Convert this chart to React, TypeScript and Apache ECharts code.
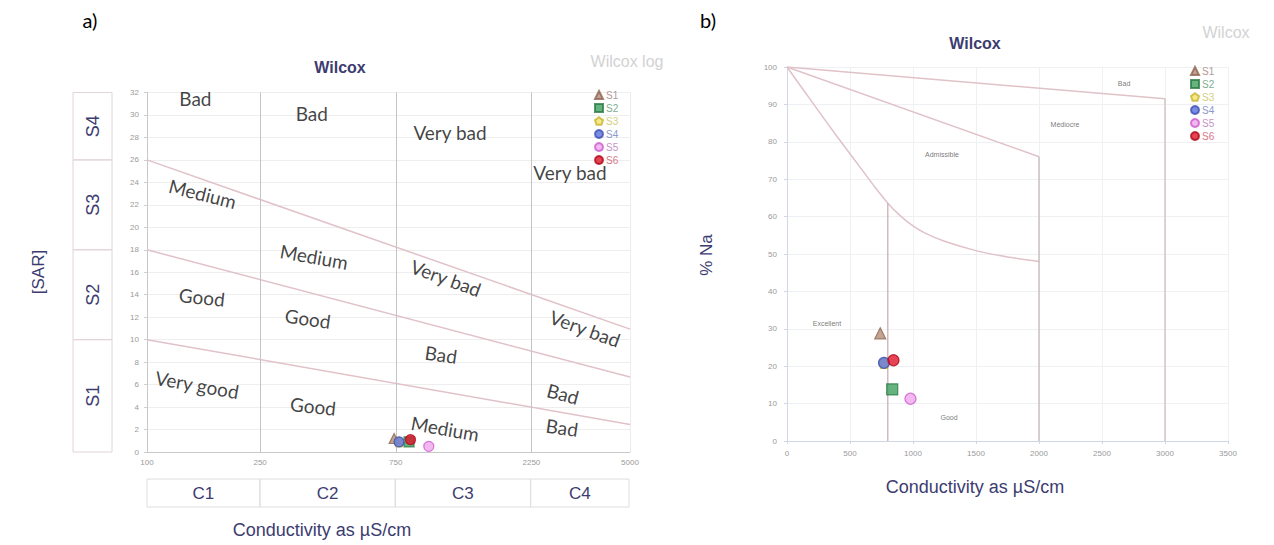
import { useEffect, useRef } from 'react';
import * as echarts from 'echarts';

// ---------- data ----------
const SAMPLES = ['S1', 'S2', 'S3', 'S4', 'S5', 'S6'];
const EC = [740, 835, 770, 770, 980, 845]; // conductivity µS/cm
const NA = [28.8, 13.8, 20.9, 20.9, 11.3, 21.6]; // % Na
const SAR = [1.2, 0.9, 0.9, 0.9, 0.5, 1.1];

// panel a (Wilcox log / USSL)
const EC_TICKS = [100, 250, 750, 2250, 5000];
const C_CLASSES = ['C1', 'C2', 'C3', 'C4'];
const SAR_BOUNDS = [0, 10, 18, 26, 32];
const S_CLASSES = ['S1', 'S2', 'S3', 'S4'];
const SAR_LINE_LOW = [[100, 10], [5000, 2.45]];
const SAR_LINE_MID = [[100, 18], [5000, 6.67]];
const SAR_LINE_HIGH = [[100, 26], [5000, 10.94]];
const A_TEXT = ['Bad', 'Bad', 'Very bad', 'Very bad', 'Medium', 'Medium', 'Very bad', 'Very bad',
  'Good', 'Good', 'Bad', 'Bad', 'Very good', 'Good', 'Medium', 'Bad'];
const A_EC = [148, 380, 1164, 3076, 157, 387, 1126, 3473, 156, 368, 1082, 2906, 150, 384, 1118, 2883];
const A_SAR = [31.5, 30.1, 28.4, 24.9, 23.0, 17.4, 15.5, 11.0, 13.8, 11.9, 8.7, 5.2, 6.0, 4.1, 2.1, 2.2];
const A_ROT = [0, 0, 0, 0, -14, -10, -20, -20, -6, -8, -8, -15, -10, -6, -10, -8];

// panel b (Wilcox)
const B_BAD = [[0, 100], [3000, 91.5]];
const B_MED = [[0, 100], [2000, 76]];
const B_ADM = [[0, 100], [200, 90.6], [400, 81.3], [600, 72.3], [700, 67.8], [800, 63.6], [900, 60.2],
  [1000, 57.5], [1100, 55.5], [1250, 53.4], [1500, 50.9], [1750, 49.2], [2000, 48]];
const B_V800 = [[800, 63.6], [800, 0]];
const B_V2000 = [[2000, 76], [2000, 0]];
const B_V3000 = [[3000, 91.5], [3000, 0]];
const B_TEXT = ['Bad', 'Médiocre', 'Admissible', 'Excellent', 'Good'];
const B_EC = [2675, 2206, 1230, 317, 1286];
const B_NA = [95.5, 84.5, 76.5, 31.5, 6.4];

// ---------- styles ----------
const PENTA = 'path://M0,-10L9.5,-3.1L5.9,8.1L-5.9,8.1L-9.5,-3.1Z';
const SYMBOLS = ['triangle', 'rect', PENTA, 'circle', 'circle', 'circle'];
const FILLS = ['#b48c78', '#3fa05e', '#f2e36a', '#5a70dc', '#f0a6ee', '#e0142a'];
const BORDERS = ['#8c6450', '#2a7a44', '#c8b432', '#3c50b4', '#cc5ccc', '#b00818'];
const LEG_TEXT = ['#b39a98', '#7fae94', '#d6cf7c', '#8c98cc', '#c694c6', '#d87888'];
const NAVY = '#3c3c70';
const SANS = '"Liberation Sans", Arial, sans-serif';
const HAND = 'Lato, "Open Sans", sans-serif';
const BOUND = '#e0c2c8';

function buildOption() {
  const tickLabel = { fontSize: 8, color: '#9a9a9a', fontFamily: SANS, formatter: (v: number) => String(v) };
  const sampleSeries = (xi: number, yi: number, ys: number[], size: number) =>
    SAMPLES.map((s, i) => ({
      name: s,
      type: 'scatter',
      xAxisIndex: xi,
      yAxisIndex: yi,
      symbol: SYMBOLS[i],
      symbolSize: size,
      itemStyle: { color: FILLS[i], borderColor: BORDERS[i], borderWidth: 1.2 },
      data: [[EC[i], ys[i]]],
      z: 5,
    }));
  const line = (xi: number, yi: number, data: number[][], color: string, width: number, smooth: number | boolean = false) => ({
    type: 'line',
    xAxisIndex: xi,
    yAxisIndex: yi,
    data,
    smooth,
    symbol: 'none',
    silent: true,
    lineStyle: { color, width },
    z: 2,
  });
  const legend = (left: number, top: number) => ({
    orient: 'vertical',
    left,
    top,
    itemWidth: 8,
    itemHeight: 8,
    itemGap: 3,
    data: SAMPLES.map((s, i) => ({ name: s, textStyle: { color: LEG_TEXT[i] } })),
    textStyle: { fontSize: 10, fontFamily: SANS, padding: [0, 0, 0, -2] },
  });

  return {
    animation: false,
    backgroundColor: '#ffffff',
    grid: [
      { left: 147, top: 92.5, width: 483, height: 359.5 },
      { left: 73, top: 92.5, width: 39, height: 359.5 },
      { left: 147, top: 479, width: 482, height: 28 },
      { left: 787, top: 67, width: 441, height: 374 },
    ],
    xAxis: [
      {
        gridIndex: 0, type: 'log', logBase: 10, min: 100, max: 5000,
        axisLine: { lineStyle: { color: '#c8c8c8' } },
        axisTick: { show: false },
        axisLabel: { ...tickLabel, customValues: EC_TICKS, margin: 6, showMinLabel: true, showMaxLabel: true },
        splitLine: { show: false },
      },
      { gridIndex: 1, type: 'value', min: 0, max: 1, show: false },
      { gridIndex: 2, type: 'log', logBase: 10, min: 100, max: 5000, show: false },
      {
        gridIndex: 3, type: 'value', min: 0, max: 3500, interval: 500,
        axisLine: { lineStyle: { color: '#d0d6e6' } },
        axisTick: { show: true, length: 3, lineStyle: { color: '#d0d6e6' } },
        axisLabel: { ...tickLabel, margin: 8 },
        splitLine: { lineStyle: { color: '#eef0f4' } },
      },
    ],
    yAxis: [
      {
        gridIndex: 0, type: 'value', min: 0, max: 32, interval: 2,
        axisLine: { show: true, lineStyle: { color: '#c8c8c8' } },
        axisTick: { show: true, length: 3, lineStyle: { color: '#d0d0d0' } },
        axisLabel: { ...tickLabel, margin: 8 },
        splitLine: { lineStyle: { color: '#eeeeee' } },
      },
      { gridIndex: 1, type: 'value', min: 0, max: 32, show: false },
      { gridIndex: 2, type: 'value', min: 0, max: 1, show: false },
      {
        gridIndex: 3, type: 'value', min: 0, max: 100, interval: 10,
        axisLine: { show: true, lineStyle: { color: '#d0d6e6' } },
        axisTick: { show: true, length: 3, lineStyle: { color: '#d0d6e6' } },
        axisLabel: { ...tickLabel, margin: 10 },
        splitLine: { lineStyle: { color: '#eef0f4' } },
      },
    ],
    legend: [legend(589, 85), legend(1185, 61)],
    series: [
      // panel a boundaries
      line(0, 0, SAR_LINE_LOW, BOUND, 1.5),
      line(0, 0, SAR_LINE_MID, BOUND, 1.5),
      line(0, 0, SAR_LINE_HIGH, BOUND, 1.5),
      {
        type: 'line', xAxisIndex: 0, yAxisIndex: 0, data: [], silent: true,
        markLine: {
          silent: true, symbol: 'none', label: { show: false },
          lineStyle: { color: '#c4c4c4', width: 1, type: 'solid' },
          data: EC_TICKS.slice(1, 4).map((v) => ({ xAxis: v })),
        },
      },
      {
        type: 'line', xAxisIndex: 0, yAxisIndex: 0, data: [], silent: true,
        markLine: {
          silent: true, symbol: 'none', label: { show: false },
          lineStyle: { color: '#ececec', width: 1, type: 'solid' },
          data: [{ xAxis: EC_TICKS[4] }],
        },
      },
      // panel a annotations
      {
        type: 'scatter', xAxisIndex: 0, yAxisIndex: 0, silent: true, symbolSize: 1,
        itemStyle: { color: 'rgba(0,0,0,0)' }, z: 6,
        data: A_TEXT.map((t, i) => ({
          value: [A_EC[i], A_SAR[i]],
          label: {
            show: true, formatter: t, rotate: A_ROT[i], position: 'inside',
            align: 'center', verticalAlign: 'middle',
            fontFamily: HAND, fontSize: 19, color: '#111111',
          },
        })),
      },
      // S boxes
      {
        type: 'line', xAxisIndex: 1, yAxisIndex: 1, data: [], silent: true,
        markArea: {
          silent: true,
          itemStyle: { color: 'rgba(0,0,0,0)', borderColor: '#e2d4d8', borderWidth: 1 },
          label: { show: true, position: 'inside', rotate: 90, fontSize: 18, color: NAVY, fontFamily: SANS },
          data: S_CLASSES.map((s, i) => [{ name: s, yAxis: SAR_BOUNDS[i] }, { yAxis: SAR_BOUNDS[i + 1] }]),
        },
      },
      // C boxes
      {
        type: 'line', xAxisIndex: 2, yAxisIndex: 2, data: [], silent: true,
        markArea: {
          silent: true,
          itemStyle: { color: 'rgba(0,0,0,0)', borderColor: '#dedede', borderWidth: 1 },
          label: { show: true, position: 'inside', fontSize: 17, color: NAVY, fontFamily: SANS },
          data: C_CLASSES.map((c, i) => [{ name: c, xAxis: EC_TICKS[i] }, { xAxis: EC_TICKS[i + 1] }]),
        },
      },
      ...sampleSeries(0, 0, SAR, 10),
      // panel b boundaries
      line(3, 3, B_BAD, BOUND, 1.5),
      line(3, 3, B_MED, BOUND, 1.5),
      line(3, 3, B_ADM, BOUND, 1.5, 0.3),
      line(3, 3, B_V800, '#c9a9ad', 1.2),
      line(3, 3, B_V2000, '#c0b4b6', 1.2),
      line(3, 3, B_V3000, '#c8b8ba', 1.2),
      {
        type: 'scatter', xAxisIndex: 3, yAxisIndex: 3, silent: true, symbolSize: 1,
        itemStyle: { color: 'rgba(0,0,0,0)' }, z: 6,
        data: B_TEXT.map((t, i) => ({
          value: [B_EC[i], B_NA[i]],
          label: {
            show: true, formatter: t, position: 'inside', align: 'center', verticalAlign: 'middle',
            fontFamily: SANS, fontSize: 7, color: '#555555',
          },
        })),
      },
      ...sampleSeries(3, 3, NA, 11),
    ],
    graphic: [
      { type: 'text', x: 90, y: 20, style: { text: 'a)', font: `20px ${HAND}`, fill: '#000', align: 'center', verticalAlign: 'middle' } },
      { type: 'text', x: 708, y: 20, style: { text: 'b)', font: `20px ${HAND}`, fill: '#000', align: 'center', verticalAlign: 'middle' } },
      { type: 'text', x: 340, y: 67, style: { text: 'Wilcox', font: `bold 16px ${SANS}`, fill: NAVY, align: 'center', verticalAlign: 'middle' } },
      { type: 'text', x: 627, y: 61, style: { text: 'Wilcox log', font: `16px ${SANS}`, fill: '#d2d2d2', align: 'center', verticalAlign: 'middle' } },
      { type: 'text', x: 975, y: 43, style: { text: 'Wilcox', font: `bold 16px ${SANS}`, fill: NAVY, align: 'center', verticalAlign: 'middle' } },
      { type: 'text', x: 1226, y: 32, style: { text: 'Wilcox', font: `16px ${SANS}`, fill: '#d2d2d2', align: 'center', verticalAlign: 'middle' } },
      { type: 'text', x: 322, y: 530, style: { text: 'Conductivity as µS/cm', font: `18px ${SANS}`, fill: NAVY, align: 'center', verticalAlign: 'middle' } },
      { type: 'text', x: 975, y: 487, style: { text: 'Conductivity as µS/cm', font: `18px ${SANS}`, fill: NAVY, align: 'center', verticalAlign: 'middle' } },
      { type: 'text', x: 38, y: 272, rotation: Math.PI / 2, style: { text: '[SAR]', font: `17px ${SANS}`, fill: NAVY, align: 'center', verticalAlign: 'middle' } },
      { type: 'text', x: 706, y: 255, rotation: Math.PI / 2, style: { text: '% Na', font: `17px ${SANS}`, fill: NAVY, align: 'center', verticalAlign: 'middle' } },
    ],
  };
}

export default function App() {
  const ref = useRef<HTMLDivElement>(null);
  useEffect(() => {
    const chart = echarts.init(ref.current as HTMLDivElement, null, { renderer: 'svg' });
    chart.setOption(buildOption() as any);
    return () => chart.dispose();
  }, []);
  return (
    <div
      ref={ref}
      style={{ position: 'fixed', left: 0, top: 0, width: 1274, height: 545, background: '#ffffff' }}
    />
  );
}
